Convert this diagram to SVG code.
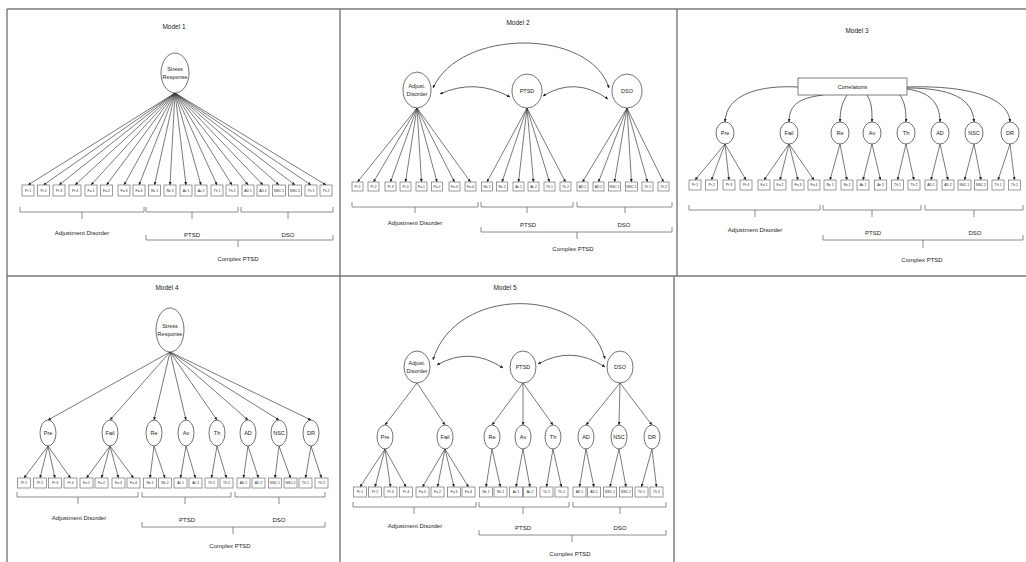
<svg xmlns="http://www.w3.org/2000/svg" width="1026" height="562" viewBox="0 0 1026 562">
<style>
text{font-family:"Liberation Sans",Arial,sans-serif;fill:#222;text-anchor:middle;dominant-baseline:central}
.t{font-size:6.5px}
.l{font-size:6px}
.n{font-size:5.5px}
.i{font-size:3.4px}
.box{fill:#fff;stroke:#666;stroke-width:0.65}
.ell{fill:#fff;stroke:#444;stroke-width:0.75}
.ld{stroke:#333;stroke-width:0.65;fill:none;marker-end:url(#ah)}
.cv{stroke:#333;stroke-width:0.75;fill:none;marker-end:url(#ah);marker-start:url(#ahs)}
.cv1{stroke:#333;stroke-width:0.75;fill:none;marker-end:url(#ah)}
.br{stroke:#666;stroke-width:0.75;fill:none}
.pan{stroke:#777;stroke-width:1.4;fill:none}
</style>
<defs>
<marker id="ah" viewBox="0 0 6 6" refX="6" refY="3" markerWidth="3" markerHeight="3" markerUnits="userSpaceOnUse" orient="auto"><path d="M0 0L6 3L0 6z" fill="#222"/></marker>
<marker id="ahs" viewBox="0 0 6 6" refX="0" refY="3" markerWidth="3" markerHeight="3" markerUnits="userSpaceOnUse" orient="auto"><path d="M6 0L0 3L6 6z" fill="#222"/></marker>
</defs>
<rect width="1026" height="562" fill="#fff"/>
<g id="panels" class="pan">
<line x1="7" y1="9" x2="1026" y2="9"/>
<line x1="7" y1="276" x2="1026" y2="276"/>
<line x1="7" y1="9" x2="7" y2="562"/>
<line x1="340" y1="9" x2="340" y2="562"/>
<line x1="677" y1="9" x2="677" y2="276"/>
<line x1="674" y1="276" x2="674" y2="562"/>
</g>

<!-- MODEL 1 -->
<g id="model1">
<text class="t" x="174" y="26">Model 1</text>
<g id="m1-connectors">
<line class="ld" x1="175" y1="93" x2="28" y2="185"/>
<line class="ld" x1="175" y1="93" x2="43.5" y2="185"/>
<line class="ld" x1="175" y1="93" x2="59" y2="185"/>
<line class="ld" x1="175" y1="93" x2="75" y2="185"/>
<line class="ld" x1="175" y1="93" x2="91" y2="185"/>
<line class="ld" x1="175" y1="93" x2="106.5" y2="185"/>
<line class="ld" x1="175" y1="93" x2="124" y2="185"/>
<line class="ld" x1="175" y1="93" x2="139" y2="185"/>
<line class="ld" x1="175" y1="93" x2="154.5" y2="185"/>
<line class="ld" x1="175" y1="93" x2="170" y2="185"/>
<line class="ld" x1="175" y1="93" x2="186" y2="185"/>
<line class="ld" x1="175" y1="93" x2="201" y2="185"/>
<line class="ld" x1="175" y1="93" x2="217" y2="185"/>
<line class="ld" x1="175" y1="93" x2="232" y2="185"/>
<line class="ld" x1="175" y1="93" x2="248" y2="185"/>
<line class="ld" x1="175" y1="93" x2="263" y2="185"/>
<line class="ld" x1="175" y1="93" x2="279" y2="185"/>
<line class="ld" x1="175" y1="93" x2="295" y2="185"/>
<line class="ld" x1="175" y1="93" x2="311" y2="185"/>
<line class="ld" x1="175" y1="93" x2="326" y2="185"/>
</g>
<g id="m1-stress"><ellipse class="ell" cx="175" cy="73" rx="14" ry="20"/><text class="n" x="175" y="69">Stress</text><text class="n" x="175" y="77">Response</text></g>
<g id="m1-ind">
<rect class="box" x="22" y="185" width="12" height="11"/><text class="i" x="28" y="190.5">Pr 1</text>
<rect class="box" x="37.5" y="185" width="12" height="11"/><text class="i" x="43.5" y="190.5">Pr 2</text>
<rect class="box" x="53" y="185" width="12" height="11"/><text class="i" x="59" y="190.5">Pr 3</text>
<rect class="box" x="69" y="185" width="12" height="11"/><text class="i" x="75" y="190.5">Pr 4</text>
<rect class="box" x="85" y="185" width="12" height="11"/><text class="i" x="91" y="190.5">Fa 1</text>
<rect class="box" x="100.5" y="185" width="12" height="11"/><text class="i" x="106.5" y="190.5">Fa 2</text>
<rect class="box" x="118" y="185" width="12" height="11"/><text class="i" x="124" y="190.5">Fa 3</text>
<rect class="box" x="133" y="185" width="12" height="11"/><text class="i" x="139" y="190.5">Fa 4</text>
<rect class="box" x="148.5" y="185" width="12" height="11"/><text class="i" x="154.5" y="190.5">Re 1</text>
<rect class="box" x="164" y="185" width="12" height="11"/><text class="i" x="170" y="190.5">Re 2</text>
<rect class="box" x="180" y="185" width="12" height="11"/><text class="i" x="186" y="190.5">Av 1</text>
<rect class="box" x="195" y="185" width="12" height="11"/><text class="i" x="201" y="190.5">Av 2</text>
<rect class="box" x="211" y="185" width="12" height="11"/><text class="i" x="217" y="190.5">Th 1</text>
<rect class="box" x="226" y="185" width="12" height="11"/><text class="i" x="232" y="190.5">Th 2</text>
<rect class="box" x="242" y="185" width="12" height="11"/><text class="i" x="248" y="190.5">AD 1</text>
<rect class="box" x="257" y="185" width="12" height="11"/><text class="i" x="263" y="190.5">AD 2</text>
<rect class="box" x="272.5" y="185" width="13" height="11"/><text class="i" x="279" y="190.5">NSC 1</text>
<rect class="box" x="288.5" y="185" width="13" height="11"/><text class="i" x="295" y="190.5">NSC 2</text>
<rect class="box" x="305" y="185" width="12" height="11"/><text class="i" x="311" y="190.5">Th 1</text>
<rect class="box" x="320" y="185" width="12" height="11"/><text class="i" x="326" y="190.5">Th 2</text>
</g>
<g id="m1-braces">
<path class="br" d="M20 207V212H144V207M82 212V219"/>
<path class="br" d="M146 207V212H238V207M192 212V219"/>
<path class="br" d="M241 207V212H333V207M288 212V219"/>
<path class="br" d="M146 235V240H333V235M238 240V247"/>
<text class="l" x="82" y="233">Adjustment Disorder</text>
<text class="l" x="192" y="235">PTSD</text>
<text class="l" x="288" y="235">DSO</text>
<text class="l" x="238" y="259">Complex PTSD</text>
</g>
</g>

<!-- MODEL 2 -->
<g id="model2">
<text class="t" x="518" y="22">Model 2</text>
<g id="m2-connectors">
<path class="cv" d="M433 88C460 28 590 28 609 88"/>
<path class="cv" d="M440 94Q475 78 510 97"/>
<path class="cv" d="M543 96Q575 76 608 99"/>
<line class="ld" x1="417" y1="108" x2="357.5" y2="182"/>
<line class="ld" x1="417" y1="108" x2="373.5" y2="182"/>
<line class="ld" x1="417" y1="108" x2="390.5" y2="182"/>
<line class="ld" x1="417" y1="108" x2="405.5" y2="182"/>
<line class="ld" x1="417" y1="108" x2="421.5" y2="182"/>
<line class="ld" x1="417" y1="108" x2="437" y2="182"/>
<line class="ld" x1="417" y1="108" x2="454.5" y2="182"/>
<line class="ld" x1="417" y1="108" x2="470.5" y2="182"/>
<line class="ld" x1="527" y1="108" x2="487" y2="182"/>
<line class="ld" x1="527" y1="108" x2="502" y2="182"/>
<line class="ld" x1="527" y1="108" x2="518.5" y2="182"/>
<line class="ld" x1="527" y1="108" x2="533.5" y2="182"/>
<line class="ld" x1="527" y1="108" x2="549.5" y2="182"/>
<line class="ld" x1="527" y1="108" x2="565.5" y2="182"/>
<line class="ld" x1="627" y1="108" x2="582.5" y2="182"/>
<line class="ld" x1="627" y1="108" x2="598.5" y2="182"/>
<line class="ld" x1="627" y1="108" x2="614.5" y2="182"/>
<line class="ld" x1="627" y1="108" x2="631.5" y2="182"/>
<line class="ld" x1="627" y1="108" x2="647.5" y2="182"/>
<line class="ld" x1="627" y1="108" x2="663.5" y2="182"/>
</g>
<g id="m2-adj"><ellipse class="ell" cx="417" cy="90" rx="14" ry="18"/><text class="n" x="417" y="86">Adjust.</text><text class="n" x="417" y="94">Disorder</text></g>
<g id="m2-ptsd"><ellipse class="ell" cx="527" cy="91" rx="15" ry="17"/><text class="n" x="527" y="91">PTSD</text></g>
<g id="m2-dso"><ellipse class="ell" cx="627" cy="91" rx="15" ry="17"/><text class="n" x="627" y="91">DSO</text></g>
<g id="m2-ind">
<rect class="box" x="352" y="182" width="11" height="9"/><text class="i" x="357.5" y="186.5">Pr 1</text>
<rect class="box" x="368" y="182" width="11" height="9"/><text class="i" x="373.5" y="186.5">Pr 2</text>
<rect class="box" x="385" y="182" width="11" height="9"/><text class="i" x="390.5" y="186.5">Pr 3</text>
<rect class="box" x="400" y="182" width="11" height="9"/><text class="i" x="405.5" y="186.5">Pr 4</text>
<rect class="box" x="416" y="182" width="11" height="9"/><text class="i" x="421.5" y="186.5">Fa 1</text>
<rect class="box" x="431.5" y="182" width="11" height="9"/><text class="i" x="437" y="186.5">Fa 2</text>
<rect class="box" x="449" y="182" width="11" height="9"/><text class="i" x="454.5" y="186.5">Fa 3</text>
<rect class="box" x="465" y="182" width="11" height="9"/><text class="i" x="470.5" y="186.5">Fa 4</text>
<rect class="box" x="481.5" y="182" width="11" height="9"/><text class="i" x="487" y="186.5">Re 1</text>
<rect class="box" x="496.5" y="182" width="11" height="9"/><text class="i" x="502" y="186.5">Re 2</text>
<rect class="box" x="513" y="182" width="11" height="9"/><text class="i" x="518.5" y="186.5">Av 1</text>
<rect class="box" x="528" y="182" width="11" height="9"/><text class="i" x="533.5" y="186.5">Av 2</text>
<rect class="box" x="544" y="182" width="11" height="9"/><text class="i" x="549.5" y="186.5">Th 1</text>
<rect class="box" x="560" y="182" width="11" height="9"/><text class="i" x="565.5" y="186.5">Th 2</text>
<rect class="box" x="577" y="182" width="11" height="9"/><text class="i" x="582.5" y="186.5">AD 1</text>
<rect class="box" x="593" y="182" width="11" height="9"/><text class="i" x="598.5" y="186.5">AD 2</text>
<rect class="box" x="608.5" y="182" width="12" height="9"/><text class="i" x="614.5" y="186.5">NSC 1</text>
<rect class="box" x="625.5" y="182" width="12" height="9"/><text class="i" x="631.5" y="186.5">NSC 2</text>
<rect class="box" x="642" y="182" width="11" height="9"/><text class="i" x="647.5" y="186.5">Th 1</text>
<rect class="box" x="658" y="182" width="11" height="9"/><text class="i" x="663.5" y="186.5">Th 2</text>
</g>
<g id="m2-braces">
<path class="br" d="M352 202V207H478V202M415 207V213"/>
<path class="br" d="M481 202V207H573V202M527 207V213"/>
<path class="br" d="M577 202V207H672V202M625 207V213"/>
<path class="br" d="M481 227V232H672V227M577 232V239"/>
<text class="l" x="415" y="223">Adjustment Disorder</text>
<text class="l" x="528" y="225">PTSD</text>
<text class="l" x="624" y="225">DSO</text>
<text class="l" x="573" y="249">Complex PTSD</text>
</g>
</g>

<!-- MODEL 3 -->
<g id="model3">
<text class="t" x="857" y="30">Model 3</text>
<g id="m3-connectors">
<path class="cv1" d="M798 87C760 85 726 94 725 122"/>
<path class="cv1" d="M823 95C800 98 789 104 789 122"/>
<path class="cv1" d="M847 95C842 103 840 110 840 122"/>
<path class="cv1" d="M867 95C872 103 872 110 872 122"/>
<path class="cv1" d="M900 95C905 103 906 110 906 122"/>
<path class="cv1" d="M907 89C930 92 940 103 940 122"/>
<path class="cv1" d="M907 88C950 88 973 98 974 122"/>
<path class="cv1" d="M907 87C970 85 1009 98 1010 122"/>
<line class="ld" x1="725" y1="144" x2="695" y2="180"/>
<line class="ld" x1="725" y1="144" x2="711.5" y2="180"/>
<line class="ld" x1="725" y1="144" x2="729" y2="180"/>
<line class="ld" x1="725" y1="144" x2="746" y2="180"/>
<line class="ld" x1="789" y1="144" x2="764" y2="180"/>
<line class="ld" x1="789" y1="144" x2="780" y2="180"/>
<line class="ld" x1="789" y1="144" x2="798" y2="180"/>
<line class="ld" x1="789" y1="144" x2="814" y2="180"/>
<line class="ld" x1="840" y1="144" x2="830" y2="180"/>
<line class="ld" x1="840" y1="144" x2="847" y2="180"/>
<line class="ld" x1="872" y1="144" x2="863" y2="180"/>
<line class="ld" x1="872" y1="144" x2="880.5" y2="180"/>
<line class="ld" x1="906" y1="144" x2="897.5" y2="180"/>
<line class="ld" x1="906" y1="144" x2="914" y2="180"/>
<line class="ld" x1="940" y1="144" x2="931" y2="180"/>
<line class="ld" x1="940" y1="144" x2="948" y2="180"/>
<line class="ld" x1="974" y1="144" x2="964.5" y2="180"/>
<line class="ld" x1="974" y1="144" x2="981" y2="180"/>
<line class="ld" x1="1010" y1="144" x2="998" y2="180"/>
<line class="ld" x1="1010" y1="144" x2="1014.5" y2="180"/>
</g>
<g id="m3-corr"><rect x="798" y="78" width="109" height="17" fill="#fff" stroke="#555" stroke-width="0.75"/><text class="n" x="852.5" y="86.5">Correlations</text></g>
<g id="m3-pre"><ellipse class="ell" cx="725" cy="133" rx="9" ry="11"/><text class="n" x="725" y="133">Pre</text></g>
<g id="m3-fail"><ellipse class="ell" cx="789" cy="133" rx="9" ry="11"/><text class="n" x="789" y="133">Fail</text></g>
<g id="m3-re"><ellipse class="ell" cx="840" cy="133" rx="9" ry="11"/><text class="n" x="840" y="133">Re</text></g>
<g id="m3-av"><ellipse class="ell" cx="872" cy="133" rx="9" ry="11"/><text class="n" x="872" y="133">Av</text></g>
<g id="m3-th"><ellipse class="ell" cx="906" cy="133" rx="9" ry="11"/><text class="n" x="906" y="133">Th</text></g>
<g id="m3-ad"><ellipse class="ell" cx="940" cy="133" rx="9" ry="11"/><text class="n" x="940" y="133">AD</text></g>
<g id="m3-nsc"><ellipse class="ell" cx="974" cy="133" rx="9" ry="11"/><text class="n" x="974" y="133">NSC</text></g>
<g id="m3-dr"><ellipse class="ell" cx="1010" cy="133" rx="9" ry="11"/><text class="n" x="1010" y="133">DR</text></g>
<g id="m3-ind">
<rect class="box" x="689" y="180" width="12" height="10"/><text class="i" x="695" y="185">Pr 1</text>
<rect class="box" x="705.5" y="180" width="12" height="10"/><text class="i" x="711.5" y="185">Pr 2</text>
<rect class="box" x="723" y="180" width="12" height="10"/><text class="i" x="729" y="185">Pr 3</text>
<rect class="box" x="740" y="180" width="12" height="10"/><text class="i" x="746" y="185">Pr 4</text>
<rect class="box" x="758" y="180" width="12" height="10"/><text class="i" x="764" y="185">Fa 1</text>
<rect class="box" x="774" y="180" width="12" height="10"/><text class="i" x="780" y="185">Fa 2</text>
<rect class="box" x="792" y="180" width="12" height="10"/><text class="i" x="798" y="185">Fa 3</text>
<rect class="box" x="808" y="180" width="12" height="10"/><text class="i" x="814" y="185">Fa 4</text>
<rect class="box" x="824" y="180" width="12" height="10"/><text class="i" x="830" y="185">Re 1</text>
<rect class="box" x="841" y="180" width="12" height="10"/><text class="i" x="847" y="185">Re 2</text>
<rect class="box" x="857" y="180" width="12" height="10"/><text class="i" x="863" y="185">Av 1</text>
<rect class="box" x="874.5" y="180" width="12" height="10"/><text class="i" x="880.5" y="185">Av 2</text>
<rect class="box" x="891.5" y="180" width="12" height="10"/><text class="i" x="897.5" y="185">Th 1</text>
<rect class="box" x="908" y="180" width="12" height="10"/><text class="i" x="914" y="185">Th 2</text>
<rect class="box" x="925" y="180" width="12" height="10"/><text class="i" x="931" y="185">AD 1</text>
<rect class="box" x="942" y="180" width="12" height="10"/><text class="i" x="948" y="185">AD 2</text>
<rect class="box" x="958" y="180" width="13" height="10"/><text class="i" x="964.5" y="185">NSC 1</text>
<rect class="box" x="974.5" y="180" width="13" height="10"/><text class="i" x="981" y="185">NSC 2</text>
<rect class="box" x="992" y="180" width="12" height="10"/><text class="i" x="998" y="185">Th 1</text>
<rect class="box" x="1008.5" y="180" width="12" height="10"/><text class="i" x="1014.5" y="185">Th 2</text>
</g>
<g id="m3-braces">
<path class="br" d="M689 205V210H820V205M755 210V217"/>
<path class="br" d="M823 205V210H921V205M872 210V217"/>
<path class="br" d="M925 205V210H1023V205M974 210V217"/>
<path class="br" d="M823 235V240H1023V235M923 240V248"/>
<text class="l" x="755" y="230">Adjustment Disorder</text>
<text class="l" x="873" y="233">PTSD</text>
<text class="l" x="975" y="233">DSO</text>
<text class="l" x="922" y="260">Complex PTSD</text>
</g>
</g>

<!-- MODEL 4 -->
<g id="model4">
<text class="t" x="167" y="287">Model 4</text>
<g id="m4-connectors">
<line class="ld" x1="170" y1="352" x2="48" y2="420"/>
<line class="ld" x1="170" y1="352" x2="110" y2="420"/>
<line class="ld" x1="170" y1="352" x2="154" y2="420"/>
<line class="ld" x1="170" y1="352" x2="186" y2="420"/>
<line class="ld" x1="170" y1="352" x2="217" y2="420"/>
<line class="ld" x1="170" y1="352" x2="248" y2="420"/>
<line class="ld" x1="170" y1="352" x2="279" y2="420"/>
<line class="ld" x1="170" y1="352" x2="311" y2="420"/>
<line class="ld" x1="48" y1="446" x2="24" y2="478"/>
<line class="ld" x1="48" y1="446" x2="40" y2="478"/>
<line class="ld" x1="48" y1="446" x2="55" y2="478"/>
<line class="ld" x1="48" y1="446" x2="70.5" y2="478"/>
<line class="ld" x1="110" y1="446" x2="86.5" y2="478"/>
<line class="ld" x1="110" y1="446" x2="101.5" y2="478"/>
<line class="ld" x1="110" y1="446" x2="118.5" y2="478"/>
<line class="ld" x1="110" y1="446" x2="133.5" y2="478"/>
<line class="ld" x1="154" y1="446" x2="150" y2="478"/>
<line class="ld" x1="154" y1="446" x2="165" y2="478"/>
<line class="ld" x1="186" y1="446" x2="180.5" y2="478"/>
<line class="ld" x1="186" y1="446" x2="195.5" y2="478"/>
<line class="ld" x1="217" y1="446" x2="211.5" y2="478"/>
<line class="ld" x1="217" y1="446" x2="226.5" y2="478"/>
<line class="ld" x1="248" y1="446" x2="243.5" y2="478"/>
<line class="ld" x1="248" y1="446" x2="258.5" y2="478"/>
<line class="ld" x1="279" y1="446" x2="275" y2="478"/>
<line class="ld" x1="279" y1="446" x2="290.5" y2="478"/>
<line class="ld" x1="311" y1="446" x2="305.5" y2="478"/>
<line class="ld" x1="311" y1="446" x2="321.5" y2="478"/>
</g>
<g id="m4-stress"><ellipse class="ell" cx="170" cy="330" rx="14" ry="22"/><text class="n" x="170" y="326">Stress</text><text class="n" x="170" y="334">Response</text></g>
<g id="m4-pre"><ellipse class="ell" cx="48" cy="433" rx="8" ry="13"/><text class="n" x="48" y="433">Pre</text></g>
<g id="m4-fail"><ellipse class="ell" cx="110" cy="433" rx="8" ry="13"/><text class="n" x="110" y="433">Fail</text></g>
<g id="m4-re"><ellipse class="ell" cx="154" cy="433" rx="8" ry="13"/><text class="n" x="154" y="433">Re</text></g>
<g id="m4-av"><ellipse class="ell" cx="186" cy="433" rx="8" ry="13"/><text class="n" x="186" y="433">Av</text></g>
<g id="m4-th"><ellipse class="ell" cx="217" cy="433" rx="8" ry="13"/><text class="n" x="217" y="433">Th</text></g>
<g id="m4-ad"><ellipse class="ell" cx="248" cy="433" rx="8" ry="13"/><text class="n" x="248" y="433">AD</text></g>
<g id="m4-nsc"><ellipse class="ell" cx="279" cy="433" rx="8" ry="13"/><text class="n" x="279" y="433">NSC</text></g>
<g id="m4-dr"><ellipse class="ell" cx="311" cy="433" rx="8" ry="13"/><text class="n" x="311" y="433">DR</text></g>
<g id="m4-ind">
<rect class="box" x="17.5" y="478" width="13" height="10"/><text class="i" x="24" y="483">Pr 1</text>
<rect class="box" x="33.5" y="478" width="13" height="10"/><text class="i" x="40" y="483">Pr 2</text>
<rect class="box" x="48.5" y="478" width="13" height="10"/><text class="i" x="55" y="483">Pr 3</text>
<rect class="box" x="64" y="478" width="13" height="10"/><text class="i" x="70.5" y="483">Pr 4</text>
<rect class="box" x="80" y="478" width="13" height="10"/><text class="i" x="86.5" y="483">Fa 1</text>
<rect class="box" x="95" y="478" width="13" height="10"/><text class="i" x="101.5" y="483">Fa 2</text>
<rect class="box" x="112" y="478" width="13" height="10"/><text class="i" x="118.5" y="483">Fa 3</text>
<rect class="box" x="127" y="478" width="13" height="10"/><text class="i" x="133.5" y="483">Fa 4</text>
<rect class="box" x="143.5" y="478" width="13" height="10"/><text class="i" x="150" y="483">Re 1</text>
<rect class="box" x="158.5" y="478" width="13" height="10"/><text class="i" x="165" y="483">Re 2</text>
<rect class="box" x="174" y="478" width="13" height="10"/><text class="i" x="180.5" y="483">Av 1</text>
<rect class="box" x="189" y="478" width="13" height="10"/><text class="i" x="195.5" y="483">Av 2</text>
<rect class="box" x="205" y="478" width="13" height="10"/><text class="i" x="211.5" y="483">Th 1</text>
<rect class="box" x="220" y="478" width="13" height="10"/><text class="i" x="226.5" y="483">Th 2</text>
<rect class="box" x="237" y="478" width="13" height="10"/><text class="i" x="243.5" y="483">AD 1</text>
<rect class="box" x="252" y="478" width="13" height="10"/><text class="i" x="258.5" y="483">AD 2</text>
<rect class="box" x="268.5" y="478" width="13" height="10"/><text class="i" x="275" y="483">NSC 1</text>
<rect class="box" x="284" y="478" width="13" height="10"/><text class="i" x="290.5" y="483">NSC 2</text>
<rect class="box" x="299" y="478" width="13" height="10"/><text class="i" x="305.5" y="483">Th 1</text>
<rect class="box" x="315" y="478" width="13" height="10"/><text class="i" x="321.5" y="483">Th 2</text>
</g>
<g id="m4-braces">
<path class="br" d="M17 492V497H138V492M78 497V504"/>
<path class="br" d="M142 492V497H231V492M185 497V504"/>
<path class="br" d="M235 492V497H325V492M279 497V504"/>
<path class="br" d="M142 522V527H325V522M233 527V534"/>
<text class="l" x="79" y="518">Adjustment Disorder</text>
<text class="l" x="187" y="520">PTSD</text>
<text class="l" x="279" y="520">DSO</text>
<text class="l" x="230" y="546">Complex PTSD</text>
</g>
</g>

<!-- MODEL 5 -->
<g id="model5">
<text class="t" x="505" y="287">Model 5</text>
<g id="m5-connectors">
<path class="cv" d="M433 360C455 285 585 285 605 359"/>
<path class="cv" d="M437 365Q470 346 503 368"/>
<path class="cv" d="M538 364Q572 345 605 367"/>
<line class="ld" x1="417" y1="383" x2="385" y2="425"/>
<line class="ld" x1="417" y1="383" x2="445" y2="425"/>
<line class="ld" x1="523" y1="383" x2="492" y2="425"/>
<line class="ld" x1="523" y1="383" x2="523" y2="425"/>
<line class="ld" x1="523" y1="383" x2="553" y2="425"/>
<line class="ld" x1="620" y1="383" x2="586" y2="425"/>
<line class="ld" x1="620" y1="383" x2="619" y2="425"/>
<line class="ld" x1="620" y1="383" x2="652" y2="425"/>
<line class="ld" x1="385" y1="449" x2="360" y2="487"/>
<line class="ld" x1="385" y1="449" x2="375" y2="487"/>
<line class="ld" x1="385" y1="449" x2="390.5" y2="487"/>
<line class="ld" x1="385" y1="449" x2="406" y2="487"/>
<line class="ld" x1="445" y1="449" x2="422.5" y2="487"/>
<line class="ld" x1="445" y1="449" x2="437.5" y2="487"/>
<line class="ld" x1="445" y1="449" x2="454" y2="487"/>
<line class="ld" x1="445" y1="449" x2="468.5" y2="487"/>
<line class="ld" x1="492" y1="449" x2="486" y2="487"/>
<line class="ld" x1="492" y1="449" x2="500.5" y2="487"/>
<line class="ld" x1="523" y1="449" x2="516" y2="487"/>
<line class="ld" x1="523" y1="449" x2="530" y2="487"/>
<line class="ld" x1="553" y1="449" x2="546.5" y2="487"/>
<line class="ld" x1="553" y1="449" x2="561.5" y2="487"/>
<line class="ld" x1="586" y1="449" x2="579.5" y2="487"/>
<line class="ld" x1="586" y1="449" x2="594" y2="487"/>
<line class="ld" x1="619" y1="449" x2="610" y2="487"/>
<line class="ld" x1="619" y1="449" x2="626" y2="487"/>
<line class="ld" x1="652" y1="449" x2="641.5" y2="487"/>
<line class="ld" x1="652" y1="449" x2="656.5" y2="487"/>
</g>
<g id="m5-adj"><ellipse class="ell" cx="417" cy="367" rx="13" ry="16"/><text class="n" x="417" y="363">Adjust.</text><text class="n" x="417" y="371">Disorder</text></g>
<g id="m5-ptsd"><ellipse class="ell" cx="523" cy="367" rx="13" ry="16"/><text class="n" x="523" y="367">PTSD</text></g>
<g id="m5-dso"><ellipse class="ell" cx="620" cy="367" rx="13" ry="16"/><text class="n" x="620" y="367">DSO</text></g>
<g id="m5-pre"><ellipse class="ell" cx="385" cy="437" rx="8" ry="12"/><text class="n" x="385" y="437">Pre</text></g>
<g id="m5-fail"><ellipse class="ell" cx="445" cy="437" rx="8" ry="12"/><text class="n" x="445" y="437">Fail</text></g>
<g id="m5-re"><ellipse class="ell" cx="492" cy="437" rx="8" ry="12"/><text class="n" x="492" y="437">Re</text></g>
<g id="m5-av"><ellipse class="ell" cx="523" cy="437" rx="8" ry="12"/><text class="n" x="523" y="437">Av</text></g>
<g id="m5-th"><ellipse class="ell" cx="553" cy="437" rx="8" ry="12"/><text class="n" x="553" y="437">Th</text></g>
<g id="m5-ad"><ellipse class="ell" cx="586" cy="437" rx="8" ry="12"/><text class="n" x="586" y="437">AD</text></g>
<g id="m5-nsc"><ellipse class="ell" cx="619" cy="437" rx="8" ry="12"/><text class="n" x="619" y="437">NSC</text></g>
<g id="m5-dr"><ellipse class="ell" cx="652" cy="437" rx="8" ry="12"/><text class="n" x="652" y="437">DR</text></g>
<g id="m5-ind">
<rect class="box" x="353.5" y="487" width="13" height="10"/><text class="i" x="360" y="492">Pr 1</text>
<rect class="box" x="368.5" y="487" width="13" height="10"/><text class="i" x="375" y="492">Pr 2</text>
<rect class="box" x="384" y="487" width="13" height="10"/><text class="i" x="390.5" y="492">Pr 3</text>
<rect class="box" x="399.5" y="487" width="13" height="10"/><text class="i" x="406" y="492">Pr 4</text>
<rect class="box" x="416" y="487" width="13" height="10"/><text class="i" x="422.5" y="492">Fa 1</text>
<rect class="box" x="431" y="487" width="13" height="10"/><text class="i" x="437.5" y="492">Fa 2</text>
<rect class="box" x="447.5" y="487" width="13" height="10"/><text class="i" x="454" y="492">Fa 3</text>
<rect class="box" x="462" y="487" width="13" height="10"/><text class="i" x="468.5" y="492">Fa 4</text>
<rect class="box" x="479.5" y="487" width="13" height="10"/><text class="i" x="486" y="492">Re 1</text>
<rect class="box" x="494" y="487" width="13" height="10"/><text class="i" x="500.5" y="492">Re 2</text>
<rect class="box" x="509.5" y="487" width="13" height="10"/><text class="i" x="516" y="492">Av 1</text>
<rect class="box" x="523.5" y="487" width="13" height="10"/><text class="i" x="530" y="492">Av 2</text>
<rect class="box" x="540" y="487" width="13" height="10"/><text class="i" x="546.5" y="492">Th 1</text>
<rect class="box" x="555" y="487" width="13" height="10"/><text class="i" x="561.5" y="492">Th 2</text>
<rect class="box" x="573" y="487" width="13" height="10"/><text class="i" x="579.5" y="492">AD 1</text>
<rect class="box" x="587.5" y="487" width="13" height="10"/><text class="i" x="594" y="492">AD 2</text>
<rect class="box" x="603.5" y="487" width="13" height="10"/><text class="i" x="610" y="492">NSC 1</text>
<rect class="box" x="619.5" y="487" width="13" height="10"/><text class="i" x="626" y="492">NSC 2</text>
<rect class="box" x="635" y="487" width="13" height="10"/><text class="i" x="641.5" y="492">Th 1</text>
<rect class="box" x="650" y="487" width="13" height="10"/><text class="i" x="656.5" y="492">Th 2</text>
</g>
<g id="m5-braces">
<path class="br" d="M353 502V507H476V502M414 507V514"/>
<path class="br" d="M479 502V507H569V502M523 507V514"/>
<path class="br" d="M573 502V507H666V502M620 507V514"/>
<path class="br" d="M479 530V535H666V530M572 535V542"/>
<text class="l" x="415" y="526">Adjustment Disorder</text>
<text class="l" x="523" y="528">PTSD</text>
<text class="l" x="620" y="528">DSO</text>
<text class="l" x="570" y="554">Complex PTSD</text>
</g>
</g>
</svg>
